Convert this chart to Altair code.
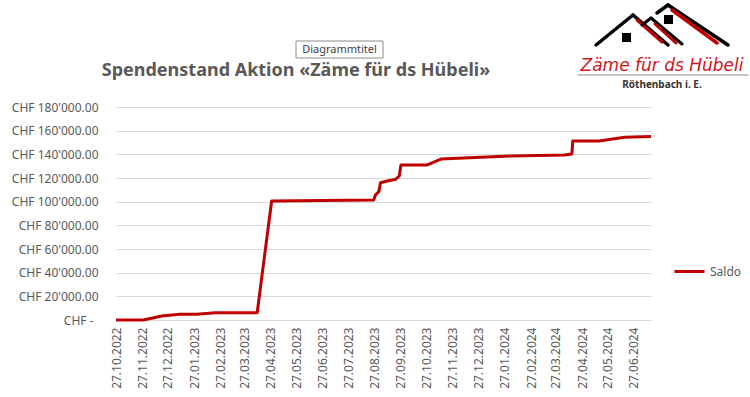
import altair as alt
import pandas as pd

dates = ["2022-10-27", "2022-11-28", "2022-12-20", "2023-01-10", "2023-01-30",
         "2023-02-21", "2023-04-11", "2023-04-28", "2023-08-26", "2023-08-28",
         "2023-09-01", "2023-09-03", "2023-09-11", "2023-09-21", "2023-09-25",
         "2023-09-27", "2023-10-28", "2023-11-13", "2024-02-03", "2024-04-06",
         "2024-04-15", "2024-04-16", "2024-05-17", "2024-06-16", "2024-07-17"]
saldo = [0, 0, 3400, 4800, 4800,
         6200, 6200, 100600, 101400, 105600,
         108500, 116000, 117500, 119000, 121700,
         131000, 131000, 136000, 138600, 139500,
         140300, 151300, 151300, 154400, 155000]
series_name = "Saldo"
tick_months = [(2022, 10), (2022, 11), (2022, 12), (2023, 1), (2023, 2), (2023, 3),
               (2023, 4), (2023, 5), (2023, 6), (2023, 7), (2023, 8), (2023, 9),
               (2023, 10), (2023, 11), (2023, 12), (2024, 1), (2024, 2), (2024, 3),
               (2024, 4), (2024, 5), (2024, 6)]
y_ticks = [0, 20000, 40000, 60000, 80000, 100000, 120000, 140000, 160000, 180000]
title_text = "Spendenstand Aktion «Zäme für ds Hübeli»"
placeholder_text = "Diagrammtitel"
logo_text = "Zäme für ds Hübeli"
logo_sub = "Röthenbach i. E."

df = pd.DataFrame({"Datum": dates, "Saldo": saldo, "Serie": series_name})
one = pd.DataFrame({"k": [0]})

FONT = "Noto Sans"
GREY = "#595959"
RED = "#c00000"

x_vals = [alt.DateTime(year=y, month=m, date=27, utc=True) for y, m in tick_months]

line = alt.Chart(df).mark_line(strokeWidth=3, strokeJoin="round").encode(
    x=alt.X("Datum:T",
            scale=alt.Scale(type="utc",
                            domain=[alt.DateTime(year=2022, month=10, date=27, utc=True),
                                    alt.DateTime(year=2024, month=7, date=17, utc=True)]),
            axis=alt.Axis(values=x_vals, labelExpr="utcFormat(datum.value, '%d.%m.%Y')",
                          labelAngle=-90, grid=False, domain=False, ticks=False,
                          labelPadding=7, labelFont=FONT, labelFontSize=12,
                          labelColor=GREY, title=None, labelOverlap=False)),
    y=alt.Y("Saldo:Q",
            scale=alt.Scale(domain=[0, 180000]),
            axis=alt.Axis(values=y_ticks,
                          labelExpr="datum.value == 0 ? 'CHF -' : 'CHF ' + replace(format(datum.value, ',.2f'), ',', \"'\")",
                          grid=True, gridColor="#d9d9d9", domain=False, ticks=False,
                          labelPadding={"condition": {"test": "datum.value == 0", "value": 23}, "value": 18},
                          labelFont=FONT, labelFontSize=12,
                          labelColor=GREY, title=None)),
    color=alt.Color("Serie:N", scale=alt.Scale(range=[RED]),
                    legend=alt.Legend(title=None, orient="none", legendX=557, legendY=148,
                                      symbolType="stroke", symbolStrokeWidth=3,
                                      symbolSize=900, labelFont=FONT, labelFontSize=12,
                                      labelColor=GREY)),
)

title = alt.Chart(one).mark_text(font=FONT, fontSize=18, fontWeight="bold", color=GREY,
                                 align="center", baseline="alphabetic").encode(
    x=alt.value(180), y=alt.value(-31), text=alt.value(title_text))

ph_box = alt.Chart(one).mark_rect(fill="white", stroke="#8c8c8c", strokeWidth=1).encode(
    x=alt.value(180), x2=alt.value(267), y=alt.value(-66), y2=alt.value(-49))
ph_text = alt.Chart(one).mark_text(font=FONT, fontSize=11, color="#404040",
                                   align="center", baseline="middle").encode(
    x=alt.value(223.5), y=alt.value(-57.5), text=alt.value(placeholder_text))

# logo (decoration)
def seg(x1, y1, x2, y2, color, w):
    return alt.Chart(one).mark_rule(color=color, strokeWidth=w, strokeCap="round").encode(
        x=alt.value(x1 - 116), y=alt.value(y1 - 107), x2=alt.value(x2 - 116), y2=alt.value(y2 - 107))

logo_parts = [
    seg(596, 45, 633, 15, "black", 3.5),
    seg(633, 15, 668, 45, "black", 3.5),
    seg(637, 20, 662, 42, RED, 3),
    seg(642, 25, 651, 18, "black", 3),
    seg(651, 18, 682, 44, "black", 3),
    seg(655, 24, 676, 43, RED, 3),
    seg(657, 13, 668, 5, "black", 3.5),
    seg(668, 5, 728, 45, "black", 3.5),
    seg(672, 10, 717, 43, RED, 3.5),
    seg(578, 75, 748, 75, "#8c8c8c", 1.2),
]
windows = [
    alt.Chart(one).mark_rect(fill="black").encode(
        x=alt.value(xx - 116), x2=alt.value(xx - 116 + 9), y=alt.value(yy - 107), y2=alt.value(yy - 107 + 9))
    for xx, yy in [(622, 33), (664, 15)]
]
logo_t = alt.Chart(one).mark_text(font="DejaVu Sans", fontSize=17, fontStyle="italic",
                                  color="#d0141c", align="center", baseline="alphabetic").encode(
    x=alt.value(662 - 116), y=alt.value(71 - 107), text=alt.value(logo_text))
logo_s = alt.Chart(one).mark_text(font=FONT, fontSize=10, fontWeight="bold", color="#333333",
                                  align="center", baseline="alphabetic").encode(
    x=alt.value(662 - 116), y=alt.value(88 - 107), text=alt.value(logo_sub))

chart = alt.layer(line, title, ph_box, ph_text, *logo_parts, *windows, logo_t, logo_s).properties(
    width=535, height=213,
    autosize=alt.AutoSizeParams(type="none"),
    padding={"left": 116, "top": 107, "right": 99, "bottom": 77},
    background="white",
).configure_view(stroke=None)

chart.save("out.html", embed_options={"renderer": "svg", "actions": False})
